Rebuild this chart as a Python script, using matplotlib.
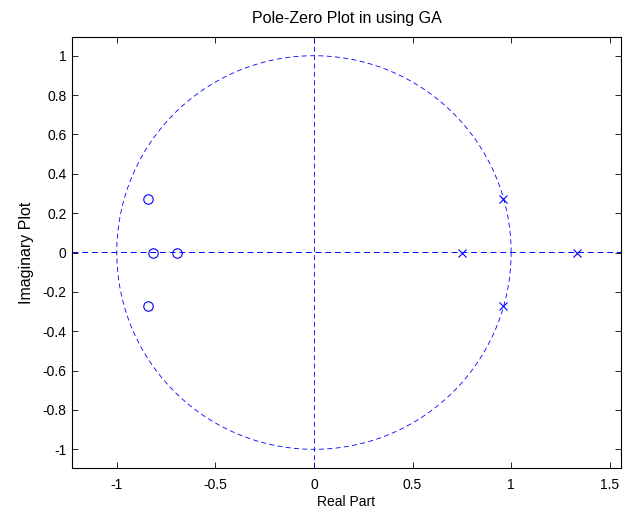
import numpy as np
import matplotlib
matplotlib.use('Agg')
import matplotlib.pyplot as plt

plt.rcParams['font.family'] = ['Liberation Sans', 'DejaVu Sans']

# zeros and poles of the GA designed filter
zeros_re = [-0.84, -0.84, -0.815, -0.695]
zeros_im = [0.27, -0.27, 0.0, 0.0]
poles_re = [0.96, 0.96, 0.75, 1.335]
poles_im = [0.27, -0.27, 0.0, 0.0]

xlim = (-1.227, 1.557)
ylim = (-1.095, 1.095)

fig = plt.figure(figsize=(6.27, 5.12), dpi=100)
ax = fig.add_axes([0.1148, 0.0859, 0.8756, 0.8418])

dash = (0, (6, 4))
th = np.linspace(0, 2 * np.pi, 400)
ax.plot(np.cos(th), np.sin(th), color='blue', lw=0.6, linestyle=dash)
ax.plot(xlim, [0.002, 0.002], color='blue', lw=0.7, linestyle=dash)
ax.plot([0, 0], ylim, color='blue', lw=0.6, linestyle=dash)

ax.plot(zeros_re, zeros_im, 'o', mfc='none', mec='blue', ms=6.8, mew=0.8)
ax.plot(poles_re, poles_im, 'x', color='blue', ms=5.5, mew=0.8)

ax.set_xlim(xlim)
ax.set_ylim(ylim)
ax.set_xticks([-1, -0.5, 0, 0.5, 1, 1.5])
ax.set_xticklabels(['-1', '-0.5', '0', '0.5', '1', '1.5'])
yt = [-1, -0.8, -0.6, -0.4, -0.2, 0, 0.2, 0.4, 0.6, 0.8, 1]
ax.set_yticks(yt)
ax.set_yticklabels(['-1', '-0.8', '-0.6', '-0.4', '-0.2', '0', '0.2', '0.4', '0.6', '0.8', '1'])
ax.tick_params(direction='in', top=True, right=True, length=4, width=0.6, labelsize=10)
ax.tick_params(axis='x', pad=7)
ax.tick_params(axis='y', pad=4)
for s in ax.spines.values():
    s.set_linewidth(0.8)

ax.set_title('Pole-Zero Plot in using GA', fontsize=11.5, pad=10)
ax.set_xlabel('Real Part', fontsize=10, labelpad=2)
ax.set_ylabel('Imaginary Plot', fontsize=11.5, labelpad=6)

fig.savefig('out.png', dpi=100)
